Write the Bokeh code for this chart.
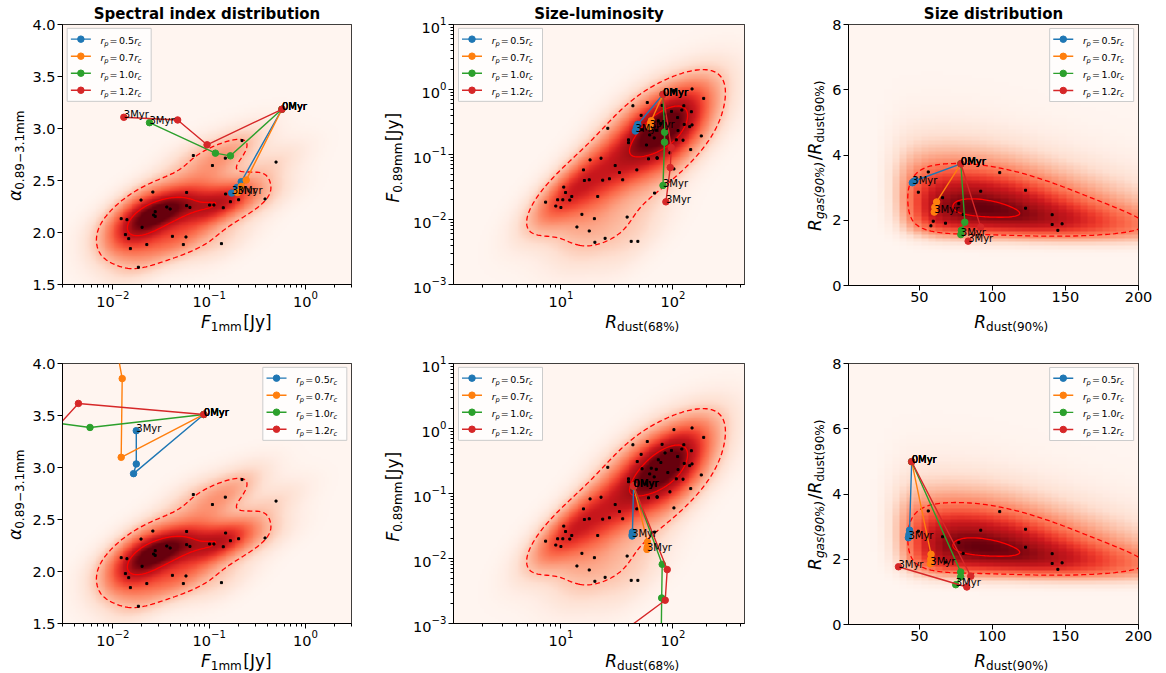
import numpy as np
import contourpy
from bokeh.plotting import figure
from bokeh.layouts import row, column
from bokeh.models import (Label, LinearColorMapper, FixedTicker, PrintfTickFormatter, Range1d)
from bokeh.palettes import Reds256
from bokeh.core.properties import value
from bokeh.embed import file_html
from bokeh.resources import INLINE

# ---------------- observed samples (black dots) ----------------
spec_f1mm = [0.219, 0.494, 0.0684, 0.108, 0.147, 0.026, 0.0583, 0.0196, 0.148, 0.202, 0.380,
             0.166, 0.101, 0.112, 0.140, 0.0363, 0.0393, 0.0583, 0.0631, 0.0275, 0.0265, 0.0275,
             0.0122, 0.0140, 0.0201, 0.0135, 0.0146, 0.0415, 0.0574, 0.0225, 0.0539, 0.134,
             0.0152, 0.0184]
spec_alpha = [2.884, 2.677, 2.740, 2.644, 2.715, 2.389, 2.385, 2.312, 2.370, 2.315, 2.322,
              2.296, 2.264, 2.264, 2.238, 2.245, 2.226, 2.258, 2.241, 2.200, 2.168, 2.155,
              2.133, 2.123, 2.050, 1.980, 1.941, 1.963, 1.957, 1.884, 1.884, 1.893,
              1.845, 1.666]

sl_rdust68 = [43.9, 125, 188, 146, 120, 26.2, 141, 40.1, 40.1, 179, 107, 60.5, 72.4, 30.5, 22.8,
              18.2, 15.9, 33.3, 47.6, 27.1, 23.6, 17.9, 35.6, 16.2, 21.3, 10.6, 11.0, 12.5, 9.35,
              10.4, 12.0, 7.3, 9.0, 10.0, 68.5, 15.4, 19.9, 39.0, 13.9, 17.9, 24.8, 20.1, 42.4,
              48.6, 80, 102, 148, 97, 74, 48, 59, 53, 64, 71, 126, 148, 111, 123, 144, 94, 72, 102,
              52, 85, 68, 58, 110, 90, 62, 78]
sl_f089 = [0.562, 0.562, 0.73, 0.455, 0.483, 0.253, 0.268, 0.168, 0.152, 0.193, 0.168, 0.0857,
           0.0877, 0.0676, 0.0877, 0.0826, 0.058, 0.0528, 0.058, 0.0423, 0.0403, 0.0408, 0.0408,
           0.0398, 0.0226, 0.0315, 0.026, 0.0226, 0.0201, 0.0201, 0.0199, 0.0185, 0.0161, 0.0153,
           0.0255, 0.012, 0.0103, 0.0109, 0.00767, 0.00666, 0.00513, 0.00446, 0.00461, 0.00461,
           0.57, 0.96, 1.02, 0.46, 0.33, 0.31, 0.63, 0.24, 0.245, 0.236, 0.29, 0.285, 0.233,
           0.166, 0.119, 0.106, 0.089, 0.06, 0.40, 0.42, 0.18, 0.14, 0.37, 0.21, 0.20, 0.30]

sd_rdust90 = [56.1, 105, 49.3, 92.0, 122.7, 65.9, 77.0, 122.7, 80, 59.5, 67.9, 57.9, 140.9,
              140.9, 147.7, 144.8]
sd_ratio = [3.48, 3.46, 2.86, 2.89, 2.92, 2.69, 2.51, 2.37, 2.18, 1.97, 1.91, 1.83, 2.17,
            1.87, 1.89, 1.69]

# ---------------- model tracks (0 Myr -> 3 Myr) ----------------
RP = ["0.5", "0.7", "1.0", "1.2"]
COLORS = ["#1f77b4", "#ff7f0e", "#2ca02c", "#d62728"]

spec_top_f = {"0.5": [0.569, 0.215, 0.194, 0.171], "0.7": [0.569, 0.242, 0.215, 0.197],
              "1.0": [0.569, 0.166, 0.116, 0.024], "1.2": [0.569, 0.095, 0.047, 0.013]}
spec_top_a = {"0.5": [3.185, 2.488, 2.433, 2.379], "0.7": [3.185, 2.504, 2.443, 2.385],
              "1.0": [3.185, 2.737, 2.763, 3.056], "1.2": [3.185, 2.843, 3.082, 3.108]}
spec_bot_f = {"0.5": [0.088, 0.0164, 0.0175, 0.0175], "0.7": [0.088, 0.0122, 0.0125, 0.0103],
              "1.0": [0.088, 0.00579, 0.0012], "1.2": [0.088, 0.00439, 0.00122]}
spec_bot_a = {"0.5": [3.51, 2.941, 3.034, 3.354], "0.7": [3.51, 3.098, 3.855, 4.28],
              "1.0": [3.51, 3.385, 3.47], "1.2": [3.51, 3.616, 3.05]}

sl_top_r = {"0.5": [81.5, 48.5, 47.2, 46.2], "0.7": [81.5, 64, 63, 62],
            "1.0": [81.5, 84.2, 84.0, 81.5], "1.2": [81.5, 96.6, 94.6, 86.5]}
sl_top_f = {"0.5": [0.84, 0.29, 0.26, 0.23], "0.7": [0.84, 0.33, 0.30, 0.27],
            "1.0": [0.84, 0.22, 0.155, 0.0334], "1.2": [0.84, 0.128, 0.063, 0.0187]}
sl_bot_r = {"0.5": [44.5, 43.5, 43.3, 43.2], "0.7": [44.5, 59.2, 59.0, 58.6],
            "1.0": [44.5, 80.2, 79.3, 78.5], "1.2": [44.5, 88.9, 85.3, 28.0]}
sl_bot_f = {"0.5": [0.13, 0.0255, 0.0235, 0.0222], "0.7": [0.13, 0.0179, 0.0150, 0.0138],
            "1.0": [0.13, 0.00813, 0.00247, 0.0005], "1.2": [0.13, 0.00675, 0.00228, 0.00055]}

sd_top_r = {"0.5": [78.4, 47.0, 46.0, 45.2], "0.7": [78.4, 61.8, 60.6, 60.2],
            "1.0": [78.4, 81.1, 78.8, 78.4], "1.2": [78.4, 92.0, 83.4]}
sd_top_q = {"0.5": [3.73, 3.21, 3.18, 3.15], "0.7": [3.73, 2.56, 2.40, 2.25],
            "1.0": [3.73, 1.94, 1.69, 1.56], "1.2": [3.73, 1.79, 1.36]}
sd_bot_r = {"0.5": [44.75, 43.3, 42.9, 42.5], "0.7": [44.75, 58.0, 57.8, 57.5],
            "1.0": [44.75, 78.3, 78.3, 74.9], "1.2": [44.75, 85.2, 82.5, 35.7]}
sd_bot_q = {"0.5": [4.99, 2.89, 2.76, 2.66], "0.7": [4.99, 2.15, 2.0, 1.86],
            "1.0": [4.99, 1.61, 1.46, 1.22], "1.2": [4.99, 1.48, 1.15, 1.77]}

TITLES = ["Spectral index distribution", "Size-luminosity", "Size distribution"]

# ---------------- layout constants ----------------
FONT = "DejaVu Sans"
FW, FH = 291, 261
PAL = list(reversed(Reds256))
YSTRIP_W = [29, 36, 33]          # width of strip holding the y label
FIG_L = [31, 44, 18]             # figure left border (tick labels)
FIG_R = [22, 52, 28]
YLAB_BASE = [18.3, 23.7, 22.3]   # baseline x of rotated y labels in strip
ROW_TOP = [24, 29]
FIG_B = 24
XSTRIP_H = 25
XLAB_BASE = 8.5
DESC = 0.236                     # font descent (em) used to place alphabetic baselines

EM = {'0': .636, '1': .636, '2': .636, '3': .636, '4': .636, '5': .636, '6': .636, '7': .636,
      '8': .636, '9': .636, '.': .318, ' ': .318, '[': .390, ']': .390, '(': .390, ')': .390,
      '%': .950, '/': .337, '\u2212': .838, '=': .838, 'J': .295, 'y': .592, 'm': .974,
      'r': .411, 'd': .635, 'u': .634, 's': .521, 't': .392, 'g': .635, 'a': .613, 'p': .635,
      'c': .550, 'F': .575, 'R': .695, '\u03b1': .658}


def tw(s, size):
    return sum(EM.get(ch, .6) for ch in s) * size


def kde(sx, sy, qx, qy, factor=None):
    d = np.vstack([sx, sy])
    n = d.shape[1]
    f = n ** (-1 / 6) if factor is None else factor
    cov = np.cov(d) * f ** 2
    inv = np.linalg.inv(cov)
    norm = 1.0 / (2 * np.pi * np.sqrt(np.linalg.det(cov)) * n)
    dx = qx.ravel()[:, None] - d[0][None, :]
    dy = qy.ravel()[:, None] - d[1][None, :]
    q = inv[0, 0] * dx * dx + 2 * inv[0, 1] * dx * dy + inv[1, 1] * dy * dy
    return (np.exp(-0.5 * q).sum(1) * norm).reshape(qx.shape)


def clines(gx, gy, Z, level, tx, ty):
    gen = contourpy.contour_generator(x=gx, y=gy, z=Z, line_type="Separate")
    xs, ys = [], []
    for seg in gen.lines(level):
        xs.append(list(tx(seg[:, 0])))
        ys.append(list(ty(seg[:, 1])))
    return xs, ys


def mlabel(p, parts, c, base, rotate=False, size=17, sub=12, drop=4, gap=1.5):
    widths = [tw(t, sub if s else size) + (gap if s else 0) for t, s, it in parts]
    pos = c - sum(widths) / 2
    for (t, s, it), w in zip(parts, widths):
        fs = sub if s else size
        if rotate:
            lx, ly, ang = base + (drop if s else 0) - DESC * fs, pos, np.pi / 2
        else:
            lx, ly, ang = pos, base - (drop if s else 0) + DESC * fs, 0
        p.add_layout(Label(x=lx, y=ly, x_units="screen", y_units="screen", text=t, angle=ang,
                           text_font=FONT, text_font_size=f"{fs}px",
                           text_font_style="italic" if it else "normal",
                           text_align="left", text_baseline="alphabetic", text_color="black"))
        pos += w


def strip(w, h):
    s = figure(width=w, height=h, x_range=Range1d(0, 1), y_range=Range1d(0, 1), min_border=0,
               toolbar_location=None, output_backend="svg", x_axis_location=None,
               y_axis_location=None)
    s.xgrid.visible = False
    s.ygrid.visible = False
    s.outline_line_color = None
    s.background_fill_color = "white"
    s.border_fill_color = "white"
    return s


def make_fig(col, rw, xtype, ytype, xr, yr):
    w = FIG_L[col] + FW + FIG_R[col]
    h = ROW_TOP[rw] + FH + FIG_B
    p = figure(width=w, height=h, x_axis_type=xtype, y_axis_type=ytype,
               x_range=Range1d(*xr), y_range=Range1d(*yr), output_backend="svg",
               toolbar_location=None, min_border_left=FIG_L[col], min_border_right=FIG_R[col],
               min_border_top=ROW_TOP[rw], min_border_bottom=FIG_B)
    p.xgrid.visible = False
    p.ygrid.visible = False
    p.outline_line_color = "black"
    p.outline_line_width = 1
    p.outline_line_alpha = 1
    p.background_fill_color = "#fff5f0"
    p.border_fill_color = "white"
    for ax in (p.xaxis[0], p.yaxis[0]):
        ax.axis_line_color = "black"
        ax.major_tick_line_color = "black"
        ax.minor_tick_line_color = "black"
        ax.major_tick_out = 5
        ax.major_tick_in = 0
        ax.minor_tick_out = 3
        ax.minor_tick_in = 0
        ax.major_label_text_font = FONT
        ax.major_label_text_font_size = "14.5px"
        ax.major_label_text_color = "black"
    p.xaxis[0].major_label_standoff = 1
    p.yaxis[0].major_label_standoff = 2
    if rw == 0:
        p.title.text = TITLES[col]
        p.title.align = "center"
        p.title.text_font = FONT
        p.title.text_font_size = "15px"
        p.title.text_font_style = "bold"
        p.title.text_color = "black"
        p.title.standoff = 4
    return p


def log_minors(lo_exp, hi_exp, lo, hi):
    out = []
    for e in range(lo_exp, hi_exp + 1):
        for m in range(2, 10):
            v = m * 10.0 ** e
            if lo <= v <= hi:
                out.append(v)
    return out


def px_to_x(xr, xlog, px):
    f = px / FW
    if xlog:
        return 10 ** (np.log10(xr[0]) + f * (np.log10(xr[1]) - np.log10(xr[0])))
    return xr[0] + f * (xr[1] - xr[0])


def py_to_y(yr, ylog, py_top):
    f = 1 - py_top / FH
    if ylog:
        return 10 ** (np.log10(yr[0]) + f * (np.log10(yr[1]) - np.log10(yr[0])))
    return yr[0] + f * (yr[1] - yr[0])


def txt(p, x, y, t, dx, dy, fs, st):
    p.text(x=[x], y=[y], text=[t], x_offset=dx, y_offset=dy - DESC * fs, text_font=value(FONT),
           text_font_size=value(f"{fs}px"), text_font_style=st, text_color="black",
           text_align="left", text_baseline="alphabetic")


def add_tracks(p, xs_d, ys_d, xr, yr, xlog, ylog, right):
    for k, c in zip(RP, COLORS):
        p.line(xs_d[k], ys_d[k], line_color=c, line_width=1.4)
        p.scatter(xs_d[k], ys_d[k], size=6.5, fill_color=c, line_color=c)
    for k in RP:
        lx, ly, lt = [], [], []
        for idx, tag in ((0, "0Myr"), (-1, "3Myr")):
            x, y = xs_d[k][idx], ys_d[k][idx]
            if xr[0] <= x <= xr[1] and yr[0] <= y <= yr[1]:   # label only points inside the axes
                lx.append(x)
                ly.append(y)
                lt.append(tag)
        if lt:
            p.text(x=lx, y=ly, text=lt, y_offset=-DESC * 10, text_font=value(FONT),
                   text_font_size=value("10px"), text_color="black", text_align="left",
                   text_baseline="alphabetic")
    # legend (drawn with glyphs, positioned from the frame corner)
    left = FW - 5 - 84 if right else 5
    bx = px_to_x(xr, xlog, left + 42)
    by = py_to_y(yr, ylog, 4 + 36.5)
    p.rect(x=[bx], y=[by], width=84, height=73, width_units="screen", height_units="screen",
           fill_color="white", fill_alpha=0.8, line_color="#cccccc", line_width=1)
    for i, (k, c) in enumerate(zip(RP, COLORS)):
        gy = py_to_y(yr, ylog, 14.7 + 17.1 * i)
        gx = px_to_x(xr, xlog, left + 13.5)
        p.scatter([gx], [gy], marker="dash", size=20, line_color=c, line_width=1.4)
        p.scatter([gx], [gy], size=6.5, fill_color=c, line_color=c)
        tx = px_to_x(xr, xlog, left + 33.3)
        for t, dx, dy, fs, st in [("r", 0, 0, 9.5, "italic"), ("p", 3.6, 2.5, 6.7, "italic"),
                                  ("=", 9.0, 0, 9.5, "normal"), (k, 18.4, 0, 9.5, "normal"),
                                  ("r", 33.6, 0, 9.5, "italic"), ("c", 37.3, 2.5, 6.7, "italic")]:
            txt(p, tx, gy, t, dx, 3.5 + dy, fs, st)


# ---------------- density fields ----------------
c1_x = (0.003, 3.0)
c1_y = (1.5, 4.0)
g1x = np.linspace(np.log10(c1_x[0]), np.log10(c1_x[1]), 160)
g1y = np.linspace(c1_y[0], c1_y[1], 160)
M1x, M1y = np.meshgrid(g1x, g1y)
Z1 = kde(np.log10(spec_f1mm), np.array(spec_alpha), M1x, M1y)

c2_x = (1.1, 435.0)
c2_y = (1e-3, 10.0)
g2x = np.linspace(np.log10(c2_x[0]), np.log10(c2_x[1]), 160)
g2y = np.linspace(np.log10(c2_y[0]), np.log10(c2_y[1]), 160)
M2x, M2y = np.meshgrid(g2x, g2y)
Z2 = kde(np.log10(sl_rdust68), np.log10(sl_f089), M2x, M2y, factor=0.6)

c3_x = (1.5, 200.0)
c3_y = (0.0, 8.0)
nx3, ny3 = 40, 72
cx3 = c3_x[0] + (np.arange(nx3) + 0.5) * (c3_x[1] - c3_x[0]) / nx3
cy3 = c3_y[0] + (np.arange(ny3) + 0.5) * (c3_y[1] - c3_y[0]) / ny3
M3x, M3y = np.meshgrid(np.log10(cx3), np.log10(cy3))
Z3img = kde(np.log10(sd_rdust90), np.log10(sd_ratio), M3x, M3y, factor=0.95)
g3x = np.linspace(np.log10(2.0), np.log10(200.0), 220)
g3y = np.linspace(np.log10(0.3), np.log10(8.0), 220)
M3fx, M3fy = np.meshgrid(g3x, g3y)
Z3 = kde(np.log10(sd_rdust90), np.log10(sd_ratio), M3fx, M3fy, factor=0.95)

ident = lambda a: a
pow10 = lambda a: 10 ** a

FIELDS = [
    dict(img=Z1, x=c1_x, y=c1_y, gx=g1x, gy=g1y, Z=Z1, tx=pow10, ty=ident, lev=(0.22, 0.75), hi=0.9),
    dict(img=Z2, x=c2_x, y=c2_y, gx=g2x, gy=g2y, Z=Z2, tx=pow10, ty=pow10, lev=(0.2, 0.8), hi=0.9),
    dict(img=Z3img, x=c3_x, y=c3_y, gx=g3x, gy=g3y, Z=Z3, tx=pow10, ty=pow10, lev=(0.42, 0.95), hi=1.0),
]


def draw_field(p, F):
    mapper = LinearColorMapper(palette=PAL, low=0, high=float(F["img"].max()) * F["hi"])
    p.image(image=[F["img"]], x=F["x"][0], y=F["y"][0], dw=F["x"][1] - F["x"][0],
            dh=F["y"][1] - F["y"][0], color_mapper=mapper)
    zmax = float(F["Z"].max())
    xs, ys = clines(F["gx"], F["gy"], F["Z"], F["lev"][0] * zmax, F["tx"], F["ty"])
    p.multi_line(xs, ys, line_color="red", line_width=1.3, line_dash="5 3")
    xs, ys = clines(F["gx"], F["gy"], F["Z"], F["lev"][1] * zmax, F["tx"], F["ty"])
    p.multi_line(xs, ys, line_color="red", line_width=1.3)


XLABELS = [[("F", False, True), ("1mm", True, False), (" [Jy]", False, False)],
           [("R", False, True), ("dust(68%)", True, False)],
           [("R", False, True), ("dust(90%)", True, False)]]
YLABELS = [[("\u03b1", False, True), ("0.89\u22123.1mm", True, False)],
           [("F", False, True), ("0.89mm", True, False), (" [Jy]", False, False)],
           [("R", False, True), ("gas(90%)", True, True), ("/", False, False),
            ("R", False, True), ("dust(90%)", True, False)]]

rows = []
for rw in range(2):
    cells = []
    for col in range(3):
        if col == 0:
            p = make_fig(0, rw, "log", "linear", c1_x, c1_y)
            p.xaxis[0].ticker = FixedTicker(ticks=[1e-2, 1e-1, 1e0], minor_ticks=log_minors(-3, 0, *c1_x))
            p.yaxis[0].ticker = FixedTicker(ticks=[1.5, 2.0, 2.5, 3.0, 3.5, 4.0], minor_ticks=[])
            p.yaxis[0].formatter = PrintfTickFormatter(format="%.1f")
            draw_field(p, FIELDS[0])
            p.scatter(spec_f1mm, spec_alpha, marker="square", size=2, color="black")
            if rw == 0:
                add_tracks(p, spec_top_f, spec_top_a, c1_x, c1_y, True, False, False)
            else:
                add_tracks(p, spec_bot_f, spec_bot_a, c1_x, c1_y, True, False, True)
        elif col == 1:
            p = make_fig(1, rw, "log", "log", c2_x, c2_y)
            p.xaxis[0].ticker = FixedTicker(ticks=[10, 100], minor_ticks=log_minors(0, 2, *c2_x))
            p.yaxis[0].ticker = FixedTicker(ticks=[1e-3, 1e-2, 1e-1, 1, 10],
                                            minor_ticks=log_minors(-3, 0, *c2_y))
            draw_field(p, FIELDS[1])
            p.scatter(sl_rdust68, sl_f089, marker="square", size=2, color="black")
            if rw == 0:
                add_tracks(p, sl_top_r, sl_top_f, c2_x, c2_y, True, True, False)
            else:
                add_tracks(p, sl_bot_r, sl_bot_f, c2_x, c2_y, True, True, False)
        else:
            p = make_fig(2, rw, "linear", "linear", c3_x, c3_y)
            p.xaxis[0].ticker = FixedTicker(ticks=[50, 100, 150, 200], minor_ticks=[])
            p.yaxis[0].ticker = FixedTicker(ticks=[0, 2, 4, 6, 8], minor_ticks=[])
            draw_field(p, FIELDS[2])
            p.scatter(sd_rdust90, sd_ratio, marker="square", size=2, color="black")
            if rw == 0:
                add_tracks(p, sd_top_r, sd_top_q, c3_x, c3_y, False, False, True)
            else:
                add_tracks(p, sd_bot_r, sd_bot_q, c3_x, c3_y, False, False, True)

        fig_w = FIG_L[col] + FW + FIG_R[col]
        fig_h = ROW_TOP[rw] + FH + FIG_B
        xs = strip(fig_w, XSTRIP_H)
        mlabel(xs, XLABELS[col], FIG_L[col] + FW / 2, XLAB_BASE)
        ys = strip(YSTRIP_W[col], fig_h + XSTRIP_H)
        mlabel(ys, YLABELS[col], fig_h + XSTRIP_H - ROW_TOP[rw] - FH / 2, YLAB_BASE[col], rotate=True)
        cells.append(ys)
        cells.append(column(p, xs))
    rows.append(row(*cells))

layout = column(*rows)

with open("out.html", "w") as fh:
    fh.write(file_html(layout, INLINE))
